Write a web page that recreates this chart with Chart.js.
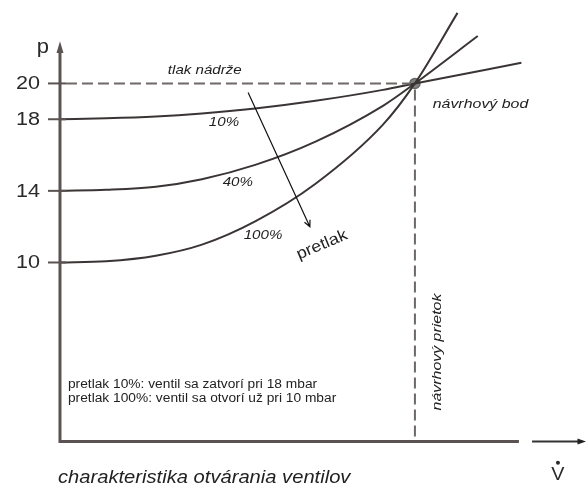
<!DOCTYPE html>
<html>
<head>
<meta charset="utf-8">
<script src="https://cdn.jsdelivr.net/npm/chart.js@4/dist/chart.umd.min.js"></script>
<style>
  html, body { margin: 0; padding: 0; background: #fff; }
  #chart { display: block; }
</style>
</head>
<body>
<canvas id="chart" width="586" height="487"></canvas>
<script>
// flow in % of design flow, pressure in mbar
const flowPts = [0, 13, 27, 40, 55, 72, 91, 100];
const p10 = [18.0, 18.05, 18.15, 18.32, 18.6, 19.03, 19.64, 20.0];
const p40 = [14.0, 14.06, 14.23, 14.65, 15.45, 16.75, 18.75, 20.0];
const p100 = [10.0, 10.07, 10.38, 11.0, 12.3, 14.4, 17.7, 20.0];
// where each curve runs out past the design point
const endFlow = [130, 117.7, 112];
const endP = [21.15, 22.65, 23.94];
const curveLabels = ['10%', '40%', '100%'];
const designFlow = 100;
const designP = 20;
const yTicks = [10, 14, 18, 20];

const AXIS = '#5a5352';
const CURVE = '#3b3434';
const DASH = '#6e6868';
const TEXT = '#1e1e1e';
const FONT = '"Liberation Sans", Arial, sans-serif';

function curve(vals, i) {
  const pts = flowPts.map((x, k) => ({ x, y: vals[k] }));
  pts.push({ x: endFlow[i], y: endP[i] });
  return pts;
}

const labelPos = {
  tank: [40.8, 20.75],
  c10: [46.2, 17.85],
  c40: [50.1, 14.5],
  c100: [57.2, 11.54],
  arrowFrom: [53, 19.5],
  arrowTo: [70.4, 12.0],
  pretlak: [73.8, 10.98],
  bod: [105, 18.85],
  prietok: [106.2, 5.0],
  note: [2.25, 3.16],
  caption: [-0.56, -2.04],
  p: [-4.8, 21.98],
  v: [140.3, -1.75],
};

// the source lettering is a bit wider than Liberation Sans, stretch it
function drawText(ctx, txt, x, y, font, align, rot, sx) {
  ctx.save();
  ctx.translate(x, y);
  if (rot) ctx.rotate(rot);
  ctx.scale(sx || 1.15, 1);
  ctx.font = font;
  ctx.textAlign = align || 'center';
  ctx.textBaseline = 'middle';
  ctx.fillText(txt, 0, 0);
  ctx.restore();
}

const schematic = {
  id: 'schematic',
  afterDatasetsDraw(chart) {
    const { ctx, scales: { x, y } } = chart;
    const px = v => x.getPixelForValue(v);
    const py = v => y.getPixelForValue(v);
    const x0 = px(0), y0 = py(0);
    ctx.save();

    // dashed guides to the design point
    ctx.strokeStyle = DASH;
    ctx.lineWidth = 2;
    ctx.setLineDash([11, 5]);
    ctx.beginPath();
    ctx.moveTo(x0 + 6, py(designP));
    ctx.lineTo(px(designFlow) - 4, py(designP));
    ctx.moveTo(px(designFlow), py(designP) + 6);
    ctx.lineTo(px(designFlow), y0);
    ctx.stroke();
    ctx.setLineDash([]);

    // axes
    ctx.strokeStyle = AXIS;
    ctx.fillStyle = AXIS;
    ctx.lineWidth = 3;
    ctx.beginPath();
    ctx.moveTo(x0, y0 + 1.5);
    ctx.lineTo(x0, py(21.9));
    ctx.moveTo(x0 - 1.5, y0);
    ctx.lineTo(px(129.3), y0);
    ctx.stroke();
    ctx.beginPath();
    ctx.moveTo(x0, py(22.35));
    ctx.lineTo(x0 - 3.5, py(21.7));
    ctx.lineTo(x0 + 3.5, py(21.7));
    ctx.closePath();
    ctx.fill();
    ctx.lineWidth = 2;
    ctx.strokeStyle = '#333';
    ctx.fillStyle = '#222';
    ctx.beginPath();
    ctx.moveTo(px(133), y0);
    ctx.lineTo(px(146), y0);
    ctx.stroke();
    ctx.beginPath();
    ctx.moveTo(px(148.2), y0);
    ctx.lineTo(px(145.8), y0 - 3);
    ctx.lineTo(px(145.8), y0 + 3);
    ctx.closePath();
    ctx.fill();

    // ticks + labels
    ctx.strokeStyle = AXIS;
    ctx.lineWidth = 2;
    ctx.fillStyle = '#2a2a2a';
    yTicks.forEach(t => {
      ctx.beginPath();
      ctx.moveTo(x0 - 12, py(t));
      ctx.lineTo(x0 + 6, py(t));
      ctx.stroke();
      drawText(ctx, String(t), x0 - 20, py(t) + 1, '18px ' + FONT, 'right', 0, 1.2);
    });

    // axis names
    drawText(ctx, 'p', px(labelPos.p[0]), py(labelPos.p[1]), '20px ' + FONT, 'center', 0, 1.1);
    drawText(ctx, 'V', px(labelPos.v[0]), py(labelPos.v[1]) + 2, '18px ' + FONT, 'center', 0, 1.1);
    ctx.beginPath();
    ctx.arc(px(labelPos.v[0]), py(labelPos.v[1]) - 10, 2, 0, Math.PI * 2);
    ctx.fill();

    // overpressure arrow
    const ax1 = px(labelPos.arrowFrom[0]), ay1 = py(labelPos.arrowFrom[1]);
    const ax2 = px(labelPos.arrowTo[0]), ay2 = py(labelPos.arrowTo[1]);
    ctx.strokeStyle = '#111';
    ctx.lineWidth = 1.2;
    ctx.beginPath();
    ctx.moveTo(ax1, ay1);
    ctx.lineTo(ax2, ay2);
    const ang = Math.atan2(ay2 - ay1, ax2 - ax1);
    ctx.moveTo(ax2 - 7 * Math.cos(ang - 0.45), ay2 - 7 * Math.sin(ang - 0.45));
    ctx.lineTo(ax2, ay2);
    ctx.lineTo(ax2 - 7 * Math.cos(ang + 0.45), ay2 - 7 * Math.sin(ang + 0.45));
    ctx.stroke();

    // italic annotations
    ctx.fillStyle = TEXT;
    const it13 = 'italic 13.5px ' + FONT;
    drawText(ctx, 'tlak nádrže', px(labelPos.tank[0]), py(labelPos.tank[1]), it13, 'center', 0, 1.12);
    drawText(ctx, curveLabels[0], px(labelPos.c10[0]), py(labelPos.c10[1]), it13, 'center', 0, 1.12);
    drawText(ctx, curveLabels[1], px(labelPos.c40[0]), py(labelPos.c40[1]), it13, 'center', 0, 1.12);
    drawText(ctx, curveLabels[2], px(labelPos.c100[0]), py(labelPos.c100[1]), it13, 'center', 0, 1.12);
    drawText(ctx, 'návrhový bod', px(labelPos.bod[0]), py(labelPos.bod[1]), it13, 'left', 0, 1.18);
    drawText(ctx, 'návrhový prietok', px(labelPos.prietok[0]), py(labelPos.prietok[1]), it13, 'center', -Math.PI / 2, 1.18);
    drawText(ctx, 'pretlak', px(labelPos.pretlak[0]), py(labelPos.pretlak[1]), '16px ' + FONT, 'center', -23 * Math.PI / 180, 1.12);

    // notes
    ctx.fillStyle = '#222';
    const nx = px(labelPos.note[0]), ny = py(labelPos.note[1]);
    drawText(ctx, 'pretlak 10%: ventil sa zatvorí pri 18 mbar', nx, ny, '12.5px ' + FONT, 'left', 0, 1.1);
    drawText(ctx, 'pretlak 100%: ventil sa otvorí už pri 10 mbar', nx, ny + 13.5, '12.5px ' + FONT, 'left', 0, 1.1);

    drawText(ctx, 'charakteristika otvárania ventilov', px(labelPos.caption[0]), py(labelPos.caption[1]),
      'italic 18px ' + FONT, 'left', 0, 1.12);
    ctx.restore();
  }
};

const lineStyle = {
  showLine: true,
  borderColor: CURVE,
  borderWidth: 2,
  pointRadius: 0,
  cubicInterpolationMode: 'monotone',
  fill: false,
};

new Chart(document.getElementById('chart'), {
  type: 'scatter',
  data: {
    datasets: [
      { label: curveLabels[0], data: curve(p10, 0), ...lineStyle },
      { label: curveLabels[1], data: curve(p40, 1), ...lineStyle },
      { label: curveLabels[2], data: curve(p100, 2), ...lineStyle },
      {
        label: 'návrhový bod',
        data: [{ x: designFlow, y: designP }],
        pointRadius: 5,
        pointBackgroundColor: 'rgba(30,30,30,0.55)',
        pointBorderColor: '#666',
        pointBorderWidth: 1.5,
      },
    ],
  },
  options: {
    responsive: false,
    animation: false,
    devicePixelRatio: 1,
    layout: { padding: 0, autoPadding: false },
    plugins: { legend: { display: false }, tooltip: { enabled: false } },
    scales: {
      x: { type: 'linear', display: false, min: -16.9, max: 148.2 },
      y: { type: 'linear', display: false, min: -2.54, max: 24.66 },
    },
  },
  plugins: [schematic],
});
</script>
</body>
</html>
